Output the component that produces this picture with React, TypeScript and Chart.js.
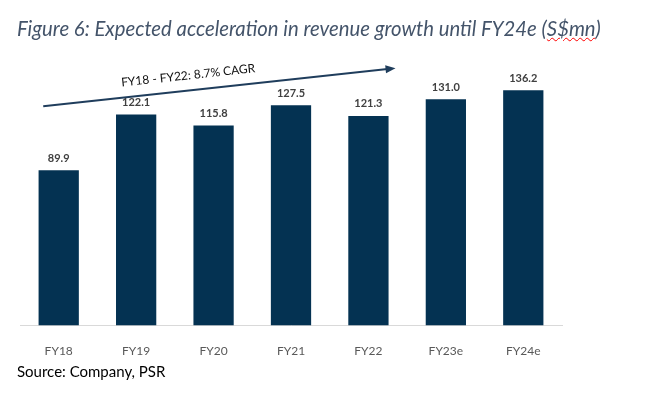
import React, { useEffect, useRef } from "react";
import { Chart, registerables } from "chart.js";

Chart.register(...registerables);

const categories = ["FY18", "FY19", "FY20", "FY21", "FY22", "FY23e", "FY24e"];
const revenue = [89.9, 122.1, 115.8, 127.5, 121.3, 131.0, 136.2];
const arrowLabel = "FY18 - FY22: 8.7% CAGR";
// arrow annotation in data space: [category index, value]
const arrowStart = [-0.2, 126.9];
const arrowEnd = [4.35, 148.9];

const FONT = "Lato, 'Open Sans', sans-serif";

const valueLabels = {
  id: "valueLabels",
  afterDatasetsDraw(chart: any) {
    const ctx = chart.ctx;
    const meta = chart.getDatasetMeta(0);
    ctx.save();
    ctx.font = `bold 11px ${FONT}`;
    ctx.fillStyle = "#404040";
    ctx.textAlign = "center";
    ctx.textBaseline = "middle";
    meta.data.forEach((bar: any, i: number) => {
      ctx.fillText(revenue[i].toFixed(1), bar.x, bar.y - 12);
    });
    ctx.restore();
  },
};

const cagrArrow = {
  id: "cagrArrow",
  afterDraw(chart: any) {
    const { ctx, scales } = chart;
    const x1 = scales.x.getPixelForValue(arrowStart[0]);
    const y1 = scales.y.getPixelForValue(arrowStart[1]);
    const x2 = scales.x.getPixelForValue(arrowEnd[0]);
    const y2 = scales.y.getPixelForValue(arrowEnd[1]);
    const ang = Math.atan2(y2 - y1, x2 - x1);
    ctx.save();
    ctx.strokeStyle = "#1f3d5c";
    ctx.fillStyle = "#1f3d5c";
    ctx.lineWidth = 2;
    ctx.beginPath();
    ctx.moveTo(x1, y1);
    ctx.lineTo(x2 - 8 * Math.cos(ang), y2 - 8 * Math.sin(ang));
    ctx.stroke();
    ctx.beginPath();
    ctx.moveTo(x2, y2);
    ctx.lineTo(x2 - 10 * Math.cos(ang) + 4 * Math.sin(ang), y2 - 10 * Math.sin(ang) - 4 * Math.cos(ang));
    ctx.lineTo(x2 - 10 * Math.cos(ang) - 4 * Math.sin(ang), y2 - 10 * Math.sin(ang) + 4 * Math.cos(ang));
    ctx.closePath();
    ctx.fill();
    // label
    const t = 0.416;
    const mx = x1 + (x2 - x1) * t;
    const my = y1 + (y2 - y1) * t;
    ctx.translate(mx, my);
    ctx.rotate(ang);
    ctx.font = `12px ${FONT}`;
    ctx.fillStyle = "#111111";
    ctx.textAlign = "center";
    ctx.textBaseline = "middle";
    ctx.fillText(arrowLabel, 0, -15);
    ctx.restore();
  },
};

export default function App() {
  const ref = useRef<HTMLCanvasElement>(null);
  useEffect(() => {
    if (!ref.current) return;
    const chart = new Chart(ref.current, {
      type: "bar",
      data: {
        labels: categories,
        datasets: [
          {
            data: revenue,
            backgroundColor: "#043252",
            barPercentage: 0.52,
            categoryPercentage: 1,
          },
        ],
      },
      options: {
        animation: false,
        responsive: false,
        maintainAspectRatio: false,
        layout: { padding: { left: 20, right: 106, top: 49, bottom: 21 } },
        plugins: { legend: { display: false }, tooltip: { enabled: false }, title: { display: false } },
        scales: {
          x: {
            grid: { display: false, drawTicks: false },
            border: { color: "#d9d9d9", width: 1 },
            ticks: { color: "#595959", font: { family: FONT, size: 12 }, padding: 18 },
          },
          y: { display: false, min: 0, max: 160 },
        },
      },
      plugins: [valueLabels, cagrArrow],
    });
    return () => chart.destroy();
  }, []);
  return (
    <div style={{ position: "fixed", left: 0, top: 0, width: 668, height: 397, background: "#fff" }}>
      <canvas ref={ref} width={668} height={397} style={{ position: "absolute", left: 0, top: 0 }} />
      <div
        style={{
          position: "absolute",
          left: 17,
          top: 16,
          fontFamily: FONT,
          fontStyle: "italic",
          fontSize: 20.3,
          color: "#44546a",
          whiteSpace: "nowrap",
        }}
      >
        Figure 6: Expected acceleration in revenue growth until FY24e (
        <span style={{ textDecoration: "underline wavy red", textDecorationThickness: 1 }}>S$mn</span>)
      </div>
      <div
        style={{
          position: "absolute",
          left: 17,
          top: 362,
          fontFamily: FONT,
          fontSize: 15,
          color: "#000",
          whiteSpace: "nowrap",
        }}
      >
        Source: Company, PSR
      </div>
    </div>
  );
}
